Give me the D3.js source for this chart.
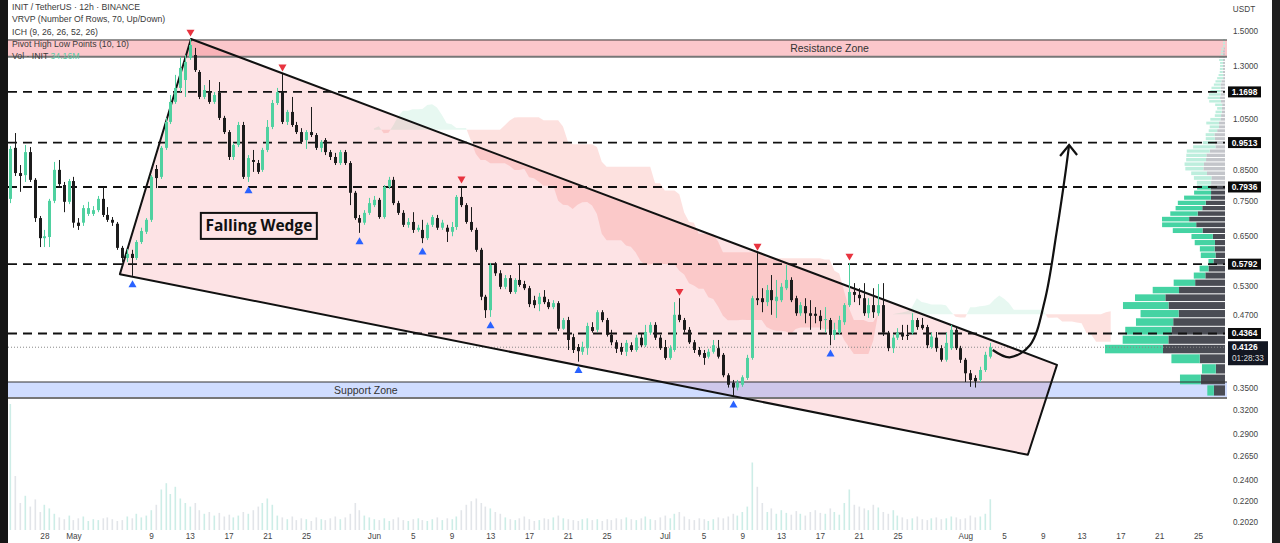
<!DOCTYPE html>
<html>
<head>
<meta charset="utf-8">
<script src="https://cdn.jsdelivr.net/npm/d3@7"></script>
<style>
  html, body { margin: 0; padding: 0; background: #fff; }
  svg { display: block; font-family: "Liberation Sans", Arial, sans-serif; }
</style>
</head>
<body>
<svg id="chart" width="1280" height="543"></svg>
<script>
// ---- data (INIT/USDT 12h) ----
var firstCandle = Date.UTC(2025, 3, 24, 0);   // first 12h bar
var barMs = 12 * 3600 * 1000;

var opens = [0.658,0.756,0.931,0.840,0.833,0.915,0.817,0.699,0.644,0.647,
  0.750,0.851,0.800,0.747,0.813,0.686,0.686,0.711,0.711,0.722,
  0.756,0.708,0.694,0.683,0.619,0.594,0.604,0.594,0.634,0.661,
  0.694,0.854,0.827,0.931,1.035,1.123,1.189,1.228,1.344,1.360,
  1.269,1.146,1.169,1.123,1.165,1.052,0.993,0.897,0.942,1.022,
  0.827,0.886,0.875,0.851,0.923,1.014,1.118,1.169,1.035,1.078,
  1.022,0.993,0.961,0.993,0.981,0.931,0.961,0.915,0.897,0.875,
  0.915,0.875,0.775,0.699,0.686,0.714,0.737,0.753,0.702,0.794,
  0.817,0.743,0.714,0.680,0.688,0.666,0.666,0.644,0.680,0.699,
  0.672,0.672,0.661,0.674,0.762,0.737,0.688,0.666,0.614,0.507,
  0.480,0.577,0.558,0.528,0.547,0.517,0.543,0.534,0.525,0.500,
  0.492,0.507,0.496,0.486,0.494,0.445,0.461,0.430,0.413,0.405,
  0.411,0.448,0.443,0.476,0.461,0.434,0.421,0.413,0.405,0.416,
  0.408,0.429,0.416,0.438,0.452,0.429,0.413,0.395,0.408,0.471,
  0.461,0.443,0.421,0.408,0.403,0.397,0.405,0.411,0.400,0.368,
  0.357,0.350,0.354,0.364,0.395,0.504,0.504,0.496,0.521,0.498,
  0.500,0.525,0.543,0.504,0.474,0.488,0.474,0.473,0.469,0.461,
  0.461,0.434,0.438,0.457,0.490,0.517,0.511,0.504,0.474,0.490,
  0.474,0.490,0.438,0.411,0.429,0.438,0.434,0.438,0.461,0.452,
  0.448,0.413,0.429,0.411,0.392,0.411,0.443,0.411,0.392,0.371,
  0.364,0.361,0.376,0.397];
var highs = [0.778,0.938,0.989,0.868,0.942,0.934,0.823,0.705,0.666,0.756,
  0.879,0.886,0.810,0.820,0.827,0.699,0.737,0.747,0.734,0.765,
  0.794,0.731,0.702,0.688,0.624,0.616,0.614,0.639,0.672,0.699,
  0.833,0.868,0.938,1.052,1.155,1.254,1.349,1.360,1.452,1.400,
  1.279,1.203,1.228,1.169,1.218,1.061,1.001,0.950,1.035,1.035,
  0.904,0.923,0.886,0.931,1.043,1.132,1.189,1.259,1.087,1.146,
  1.035,1.009,1.001,1.100,0.989,0.961,0.969,0.923,0.912,0.923,
  0.923,0.882,0.781,0.708,0.722,0.759,0.765,0.759,0.800,0.827,
  0.827,0.750,0.722,0.699,0.716,0.680,0.694,0.686,0.708,0.708,
  0.694,0.680,0.688,0.768,0.797,0.743,0.731,0.672,0.619,0.511,
  0.582,0.584,0.565,0.554,0.554,0.547,0.577,0.541,0.530,0.509,
  0.515,0.521,0.502,0.500,0.498,0.465,0.467,0.436,0.418,0.422,
  0.456,0.457,0.480,0.480,0.465,0.443,0.425,0.420,0.425,0.421,
  0.434,0.436,0.452,0.457,0.457,0.434,0.425,0.416,0.496,0.504,
  0.465,0.448,0.425,0.413,0.408,0.410,0.425,0.425,0.403,0.371,
  0.361,0.361,0.368,0.400,0.509,0.606,0.525,0.532,0.554,0.543,
  0.536,0.577,0.549,0.509,0.496,0.504,0.500,0.486,0.480,0.486,
  0.465,0.456,0.469,0.494,0.582,0.536,0.525,0.536,0.504,0.525,
  0.534,0.536,0.441,0.434,0.446,0.452,0.452,0.474,0.465,0.465,
  0.452,0.438,0.439,0.416,0.438,0.452,0.448,0.415,0.395,0.376,
  0.368,0.381,0.405,0.420];
var lows = [0.594,0.743,0.830,0.778,0.810,0.810,0.688,0.621,0.621,0.621,
  0.743,0.797,0.716,0.740,0.672,0.666,0.677,0.705,0.705,0.716,
  0.702,0.688,0.677,0.614,0.584,0.584,0.552,0.589,0.629,0.655,
  0.688,0.790,0.820,0.923,1.026,1.114,1.169,1.146,1.333,1.269,
  1.136,1.136,1.114,1.114,1.043,0.985,0.886,0.886,0.934,0.820,
  0.810,0.844,0.837,0.844,0.915,1.005,1.109,1.026,1.022,1.014,
  0.985,0.946,0.927,0.973,0.923,0.915,0.904,0.886,0.868,0.868,
  0.868,0.737,0.694,0.658,0.680,0.708,0.731,0.697,0.697,0.787,
  0.737,0.708,0.674,0.672,0.658,0.661,0.631,0.639,0.674,0.666,
  0.666,0.634,0.649,0.666,0.731,0.683,0.661,0.609,0.500,0.465,
  0.467,0.552,0.523,0.523,0.513,0.513,0.528,0.521,0.486,0.484,
  0.478,0.492,0.482,0.482,0.441,0.443,0.408,0.403,0.389,0.400,
  0.400,0.438,0.439,0.457,0.431,0.416,0.403,0.400,0.398,0.405,
  0.405,0.413,0.413,0.434,0.425,0.408,0.392,0.392,0.405,0.457,
  0.438,0.418,0.403,0.397,0.384,0.394,0.402,0.394,0.365,0.350,
  0.338,0.346,0.351,0.361,0.392,0.490,0.476,0.488,0.471,0.465,
  0.496,0.521,0.496,0.469,0.469,0.455,0.443,0.455,0.443,0.438,
  0.416,0.425,0.434,0.452,0.486,0.496,0.490,0.469,0.465,0.465,
  0.469,0.432,0.406,0.403,0.425,0.425,0.425,0.434,0.443,0.443,
  0.411,0.410,0.405,0.389,0.389,0.408,0.408,0.387,0.358,0.351,
  0.350,0.358,0.373,0.394];
var closes = [0.753,0.927,0.840,0.830,0.915,0.817,0.699,0.644,0.649,0.750,
  0.851,0.803,0.747,0.813,0.686,0.677,0.728,0.728,0.722,0.756,
  0.708,0.694,0.686,0.619,0.594,0.604,0.594,0.634,0.663,0.694,
  0.827,0.823,0.931,1.035,1.123,1.189,1.290,1.322,1.417,1.279,
  1.146,1.179,1.123,1.155,1.052,0.993,0.897,0.942,1.022,0.827,
  0.893,0.879,0.844,0.923,1.014,1.118,1.169,1.035,1.078,1.022,
  0.993,0.954,0.993,0.981,0.931,0.954,0.915,0.897,0.875,0.915,
  0.875,0.775,0.699,0.686,0.714,0.743,0.753,0.702,0.794,0.817,
  0.743,0.714,0.680,0.688,0.666,0.672,0.644,0.680,0.702,0.672,
  0.686,0.661,0.674,0.762,0.737,0.688,0.666,0.614,0.507,0.480,
  0.577,0.558,0.528,0.547,0.517,0.543,0.532,0.525,0.492,0.490,
  0.507,0.496,0.486,0.494,0.445,0.461,0.425,0.408,0.406,0.413,
  0.450,0.441,0.476,0.461,0.434,0.421,0.410,0.405,0.420,0.408,
  0.429,0.416,0.439,0.452,0.429,0.411,0.395,0.411,0.471,0.461,
  0.443,0.421,0.408,0.400,0.395,0.405,0.416,0.397,0.368,0.354,
  0.350,0.357,0.365,0.395,0.504,0.500,0.496,0.521,0.500,0.507,
  0.528,0.543,0.500,0.474,0.490,0.474,0.469,0.469,0.459,0.463,
  0.434,0.443,0.461,0.490,0.517,0.511,0.504,0.474,0.490,0.476,
  0.490,0.438,0.411,0.429,0.438,0.431,0.432,0.461,0.448,0.446,
  0.416,0.431,0.411,0.392,0.420,0.443,0.411,0.392,0.371,0.361,
  0.359,0.376,0.400,0.4126];
// volume in millions
var volumes = [170,140,60,30,38,26,34,20,28,24,18,
  14,12,16,11,13,15,10,12,11,13,14,12,10,11,15,13,18,14,16,
  22,28,45,52,40,48,35,30,
  26,30,22,18,20,16,19,15,17,14,16,20,18,22,26,30,35,28,
  16,14,12,15,11,13,12,10,14,12,11,13,15,12,14,18,
  30,22,16,14,
  12,11,13,10,12,14,11,10,12,13,11,10,12,14,11,13,12,15,
  22,28,32,35,30,26,24,20,18,
  14,12,11,13,15,12,10,11,13,12,14,16,13,12,11,10,12,13,11,12,10,12,11,13,12,14,12,11,13,15,12,11,14,16,13,18,
  20,15,12,11,13,12,10,12,14,13,15,
  18,16,20,26,
  75,48,30,
  20,24,18,22,19,17,21,18,16,20,22,19,18,24,20,17,30,45,28,
  26,24,22,28,25,20,18,22,16,
  14,12,13,15,12,11,13,14,12,13,15,14,12,13,16,14,15,18,
  34.16];

var pivotHighIdx = [38, 57, 94, 139, 155, 174];
var pivotLowIdx = [26, 50, 73, 86, 100, 118, 150, 170];

var levels = [1.1698, 0.9513, 0.7936, 0.5792, 0.4364];
var resistanceZone = [1.350, 1.446];
var supportZone = [0.3354, 0.358];

var priceTicks = [1.5, 1.3, 1.05, 0.85, 0.75, 0.65, 0.53, 0.47, 0.35, 0.32, 0.29, 0.265, 0.24, 0.22, 0.202];
var timeTicks = ["2025-04-28","2025-05-01","2025-05-09","2025-05-13","2025-05-17","2025-05-21","2025-05-25",
  "2025-06-01","2025-06-05","2025-06-09","2025-06-13","2025-06-17","2025-06-21","2025-06-25",
  "2025-07-01","2025-07-05","2025-07-09","2025-07-13","2025-07-17","2025-07-21","2025-07-25",
  "2025-08-01","2025-08-05","2025-08-09","2025-08-13","2025-08-17","2025-08-21","2025-08-25"];

// drawings, as [time, price]
var wedgePts = [["2025-05-05T19:00Z",0.556],["2025-05-13T03:00Z",1.452],["2025-08-10T11:00Z",0.384],["2025-08-07T11:00Z",0.266]];
var arrowPts = [["2025-08-03T20:00Z",0.408],["2025-08-05T14:00Z",0.396],["2025-08-07T16:00Z",0.416],
  ["2025-08-09T05:00Z",0.500],["2025-08-10T11:00Z",0.666],["2025-08-11T09:00Z",0.851],["2025-08-11T17:00Z",0.942]];
var wedgeLabel = ["2025-05-20T03:00Z", 0.677];
var resistanceLabel = "2025-07-18T00:00Z";
var supportLabel = "2025-05-31T04:00Z";

// ---- setup ----
var W = 1280, H = 543, plotR = 1225;
var upCol = "#4fd1a0", dnCol = "#1c1c1c";
var svg = d3.select("#chart");

var x = d3.scaleUtc()
  .domain([new Date("2025-04-23T10:09Z"), new Date("2025-08-27T19:00Z")])
  .range([0, plotR]);
var y = d3.scaleLog().domain([0.18557, 1.7023]).range([H, 0]);
var yv = d3.scaleLinear().domain([0, 200]).range([530, 350]);

var candles = opens.map(function(o, i) {
  return {i: i, t: new Date(firstCandle + i * barMs), o: o, h: highs[i], l: lows[i], c: closes[i], v: volumes[i]};
});
function cx(d) { return Math.round(x(d.t)) + 0.5; }

svg.append("rect").attr("width", W).attr("height", H).attr("fill", "#fff");
svg.append("clipPath").attr("id", "plot").append("rect").attr("x", 0).attr("y", 0).attr("width", plotR + 2).attr("height", H);
var g = svg.append("g").attr("clip-path", "url(#plot)");

// ---- ichimoku cloud (9, 26, 52, displaced 26) ----
function donch(i, n) {
  if (i < n - 1) return null;
  var hi = d3.max(highs.slice(i - n + 1, i + 1)), lo = d3.min(lows.slice(i - n + 1, i + 1));
  return (hi + lo) / 2;
}
var cloud = [];
for (var i = 51; i < candles.length; i++) {
  cloud.push({t: new Date(firstCandle + (i + 25) * barMs), a: (donch(i, 9) + donch(i, 26)) / 2, b: donch(i, 52)});
}
var runs = [], cur = null;
cloud.forEach(function(d, k) {
  var up = d.a >= d.b;
  if (!cur || cur.up !== up) {
    if (cur) {
      var p = cloud[k - 1];
      var f = (p.a - p.b) / ((p.a - p.b) - (d.a - d.b));
      var cr = {t: new Date(+p.t + f * (d.t - p.t)), a: p.a + f * (d.a - p.a)};
      cr.b = cr.a;
      cur.pts.push(cr);
      cur = {up: up, pts: [cr]};
    } else cur = {up: up, pts: []};
    runs.push(cur);
  }
  cur.pts.push(d);
});
var cloudArea = d3.area().x(function(d) { return x(d.t); })
  .y0(function(d) { return y(d.b); }).y1(function(d) { return y(d.a); });
g.selectAll("path.cloud").data(runs).join("path")
  .attr("d", function(r) { return cloudArea(r.pts); })
  .attr("fill", function(r) { return r.up ? "rgba(60,200,140,0.12)" : "rgba(244,67,54,0.16)"; });

// ---- wedge fill ----
var wedgeXY = wedgePts.map(function(p) { return [x(new Date(p[0])), y(p[1])]; });
g.append("path").attr("d", "M" + wedgeXY.join("L") + "Z").attr("fill", "rgba(242,54,69,0.14)");

// ---- zones ----
function zone(z, fill) {
  g.append("rect").attr("x", 8).attr("width", plotR - 6)
    .attr("y", y(z[1])).attr("height", y(z[0]) - y(z[1])).attr("fill", fill);
}
zone(resistanceZone, "rgba(242,54,69,0.28)");
zone(supportZone, "rgba(41,98,255,0.22)");

// ---- volume bars ----
g.selectAll("rect.vol").data(candles).join("rect")
  .attr("x", function(d) { return cx(d) - 1; }).attr("width", 1.6)
  .attr("y", function(d) { return yv(d.v); })
  .attr("height", function(d) { return yv(0) - yv(d.v); })
  .attr("fill", function(d) { return d.c >= d.o ? "rgba(77,190,170,0.28)" : "rgba(150,160,175,0.28)"; });

// ---- visible range volume profile (70 rows, up/down) ----
var nRows = 70, pLo = d3.min(lows), pHi = d3.max(highs), step = (pHi - pLo) / nRows;
var rows = d3.range(nRows).map(function(r) { return {lo: pLo + r * step, hi: pLo + (r + 1) * step, up: 0, dn: 0}; });
candles.forEach(function(d) {
  var span = Math.max(d.h - d.l, 1e-9);
  rows.forEach(function(r) {
    var ov = Math.min(r.hi, d.h) - Math.max(r.lo, d.l);
    if (ov > 0) { if (d.c >= d.o) r.up += d.v * ov / span; else r.dn += d.v * ov / span; }
  });
});
var tot = rows.map(function(r) { return r.up + r.dn; });
var total = d3.sum(tot), poc = d3.maxIndex(tot), va0 = poc, va1 = poc, acc = tot[poc];
while (acc < 0.7 * total) {
  var na = va0 > 0 ? tot[va0 - 1] : -1, nb = va1 < nRows - 1 ? tot[va1 + 1] : -1;
  if (nb >= na) { va1++; acc += tot[va1]; } else { va0--; acc += tot[va0]; }
}
rows.forEach(function(r, k) { r.va = k >= va0 && k <= va1; });
var vpw = d3.scaleLinear().domain([0, d3.max(tot)]).range([0, 120]);
var vp = g.append("g");
vp.selectAll("rect.dn").data(rows).join("rect")
  .attr("x", function(r) { return plotR - vpw(r.dn); }).attr("width", function(r) { return vpw(r.dn); })
  .attr("y", function(r) { return y(r.hi) + 0.5; })
  .attr("height", function(r) { return Math.max(0.6, y(r.lo) - y(r.hi) - 1); })
  .attr("fill", function(r) { return r.va ? "#4a4c54" : "#c3c5ca"; });
vp.selectAll("rect.up").data(rows).join("rect")
  .attr("x", function(r) { return plotR - vpw(r.dn) - vpw(r.up); }).attr("width", function(r) { return vpw(r.up); })
  .attr("y", function(r) { return y(r.hi) + 0.5; })
  .attr("height", function(r) { return Math.max(0.6, y(r.lo) - y(r.hi) - 1); })
  .attr("fill", function(r) { return r.va ? "#45d3a3" : "#bdeedd"; });

// ---- horizontal levels ----
g.selectAll("line.lvl").data(levels).join("line")
  .attr("x1", 8).attr("x2", plotR)
  .attr("y1", function(d) { return y(d); }).attr("y2", function(d) { return y(d); })
  .attr("stroke", "#111").attr("stroke-width", 1.8).attr("stroke-dasharray", "9,6");
var last = candles[candles.length - 1];
g.append("line").attr("x1", 8).attr("x2", plotR).attr("y1", y(last.c)).attr("y2", y(last.c))
  .attr("stroke", "#888").attr("stroke-width", 1).attr("stroke-dasharray", "1,2");

// zone borders
[[resistanceZone, "Resistance Zone", resistanceLabel], [supportZone, "Support Zone", supportLabel]].forEach(function(z) {
  g.append("line").attr("x1", 8).attr("x2", plotR + 2).attr("y1", y(z[0][1])).attr("y2", y(z[0][1]))
    .attr("stroke", "#333").attr("stroke-width", 1);
  g.append("line").attr("x1", 8).attr("x2", plotR + 2).attr("y1", y(z[0][0])).attr("y2", y(z[0][0]))
    .attr("stroke", "#777").attr("stroke-width", 2);
  g.append("text").attr("x", x(new Date(z[2]))).attr("y", y(Math.sqrt(z[0][0] * z[0][1])))
    .attr("dy", "0.35em").attr("text-anchor", "middle").attr("font-size", 10.5).attr("fill", "#333").text(z[1]);
});

// ---- wedge outline ----
g.append("path").attr("d", "M" + wedgeXY.join("L") + "Z").attr("fill", "none")
  .attr("stroke", "#111").attr("stroke-width", 2).attr("stroke-linejoin", "round");

// ---- candles ----
g.selectAll("line.wick").data(candles).join("line")
  .attr("x1", cx).attr("x2", cx)
  .attr("y1", function(d) { return y(d.h); }).attr("y2", function(d) { return y(d.l); })
  .attr("stroke", function(d) { return d.c >= d.o ? upCol : dnCol; }).attr("stroke-width", 1);
g.selectAll("rect.body").data(candles).join("rect")
  .attr("x", function(d) { return cx(d) - 1.5; }).attr("width", 3)
  .attr("y", function(d) { return y(Math.max(d.o, d.c)); })
  .attr("height", function(d) { return Math.max(1, Math.abs(y(d.o) - y(d.c))); })
  .attr("fill", function(d) { return d.c >= d.o ? upCol : dnCol; });

// ---- pivot markers ----
var tri = d3.symbol(d3.symbolTriangle, 28);
g.selectAll("path.ph").data(pivotHighIdx).join("path").attr("d", tri)
  .attr("transform", function(i) { return "translate(" + cx(candles[i]) + "," + (y(candles[i].h) - 7) + ") rotate(180)"; })
  .attr("fill", "#e8333f");
g.selectAll("path.pl").data(pivotLowIdx).join("path").attr("d", tri)
  .attr("transform", function(i) { return "translate(" + cx(candles[i]) + "," + (y(candles[i].l) + 9) + ")"; })
  .attr("fill", "#2962ff");

// ---- falling wedge label ----
var lx = x(new Date(wedgeLabel[0])), ly = y(wedgeLabel[1]);
g.append("rect").attr("x", lx - 58).attr("y", ly - 13).attr("width", 116).attr("height", 26)
  .attr("fill", "none").attr("stroke", "#111").attr("stroke-width", 2);
g.append("text").attr("x", lx).attr("y", ly).attr("dy", "0.36em").attr("text-anchor", "middle")
  .attr("font-family", "'Open Sans', sans-serif").attr("font-weight", "bold").attr("font-size", 15.5)
  .attr("fill", "#111").text("Falling Wedge");

// ---- projected move arrow ----
var arrowXY = arrowPts.map(function(p) { return [x(new Date(p[0])), y(p[1])]; });
g.append("path").attr("d", d3.line().curve(d3.curveCatmullRom)(arrowXY))
  .attr("fill", "none").attr("stroke", "#111").attr("stroke-width", 2.2);
var tip = arrowXY[arrowXY.length - 1];
g.append("path").attr("d", "M" + (tip[0] - 9) + "," + (tip[1] + 11) + "L" + tip[0] + "," + tip[1] + "L" + (tip[0] + 8) + "," + (tip[1] + 10))
  .attr("fill", "none").attr("stroke", "#111").attr("stroke-width", 2.2).attr("stroke-linejoin", "miter");

// ---- price axis ----
var ya = svg.append("g").attr("transform", "translate(" + plotR + ",0)")
  .call(d3.axisRight(y).tickValues(priceTicks).tickFormat(d3.format(".4f")).tickSize(0).tickPadding(8));
ya.select(".domain").remove();
ya.selectAll("text").attr("font-size", 8.2).attr("fill", "#444").attr("font-family", "'Liberation Sans', Arial, sans-serif");
svg.append("text").attr("x", 1244).attr("y", 12).attr("text-anchor", "middle").attr("font-size", 8.2).attr("fill", "#444").text("USDT");

var boxes = svg.append("g");
levels.forEach(function(v) {
  boxes.append("rect").attr("x", 1228).attr("y", y(v) - 5.5).attr("width", 33).attr("height", 11).attr("fill", "#0b0b0b");
  boxes.append("text").attr("x", 1244.5).attr("y", y(v)).attr("dy", "0.35em").attr("text-anchor", "middle")
    .attr("font-size", 8.4).attr("font-weight", "bold").attr("fill", "#fff").text(d3.format(".4f")(v));
});
boxes.append("rect").attr("x", 1228).attr("y", y(last.c) - 6).attr("width", 40).attr("height", 24).attr("fill", "#131722");
boxes.append("text").attr("x", 1232).attr("y", y(last.c)).attr("dy", "0.35em")
  .attr("font-size", 8.4).attr("font-weight", "bold").attr("fill", "#fff").text(d3.format(".4f")(last.c));
boxes.append("text").attr("x", 1232).attr("y", y(last.c) + 11).attr("dy", "0.35em")
  .attr("font-size", 8.2).attr("fill", "#ddd").text("01:28:33");

// ---- time axis ----
var xa = svg.append("g").attr("transform", "translate(0,531)")
  .call(d3.axisBottom(x).tickValues(timeTicks.map(function(s) { return new Date(s + "T00:00Z"); }))
    .tickFormat(function(d) { return d.getUTCDate() === 1 ? d3.utcFormat("%b")(d) : d.getUTCDate(); })
    .tickSize(0).tickPadding(2));
xa.select(".domain").remove();
xa.selectAll("text").attr("font-size", 8.2).attr("fill", "#444").attr("font-family", "'Liberation Sans', Arial, sans-serif");

// ---- legend ----
var legend = ["INIT / TetherUS \u00b7 12h \u00b7 BINANCE", "VRVP (Number Of Rows, 70, Up/Down)",
  "ICH (9, 26, 26, 52, 26)", "Pivot High Low Points (10, 10)"];
var lg = svg.append("g").attr("font-size", 8.7).attr("fill", "#3a3a3a");
legend.forEach(function(s, k) { lg.append("text").attr("x", 12).attr("y", 10 + k * 12.3).text(s); });
var vt = lg.append("text").attr("x", 12).attr("y", 59);
vt.append("tspan").text("Vol \u00b7 INIT  ");
vt.append("tspan").attr("fill", "#5cc9a4").text(d3.format(".2f")(last.v) + "M");

// frame edges
svg.append("rect").attr("x", 0).attr("y", 0).attr("width", 8).attr("height", H).attr("fill", "#151515");
svg.append("rect").attr("x", 1272).attr("y", 0).attr("width", 8).attr("height", H).attr("fill", "#1f1f1f");
</script>
</body>
</html>
